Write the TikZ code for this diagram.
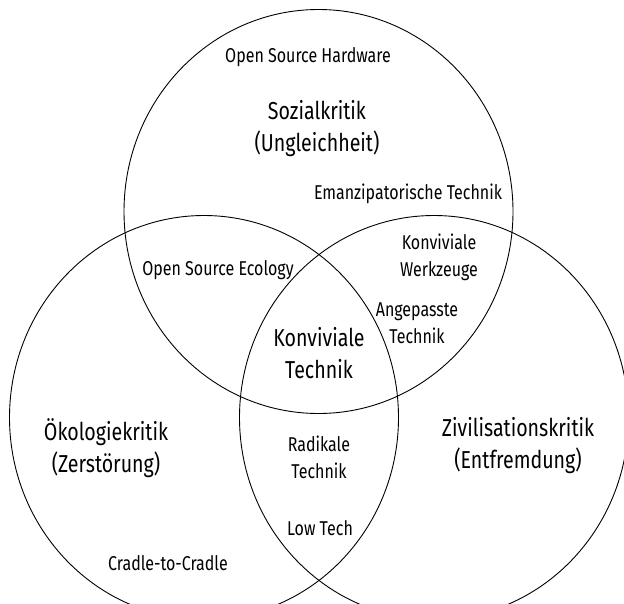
\documentclass[tikz,border=0pt]{standalone}
\usepackage{fontspec}
\setmainfont{Fira Sans}[FakeStretch=0.8]
\usetikzlibrary{shapes.geometric}
\begin{document}
\begin{tikzpicture}[x=1pt,y=-1pt,
  setcircle/.style={draw=black, line width=0.9pt, ellipse, inner sep=0pt,
    minimum width=389pt, minimum height=404pt},
  small/.style={align=center, inner sep=0pt, font=\fontsize{20}{27}\selectfont},
  big/.style={align=center, inner sep=0pt, font=\fontsize{24.5}{32}\selectfont}]
\useasboundingbox (0,0) rectangle (624,603);
\clip (0,0) rectangle (624,603);
\fill[white] (0,0) rectangle (624,603);
\node[setcircle] (sozial) at (318.5,211.5) {};
\node[setcircle] (oeko) at (204,417.5) {};
\node[setcircle] (zivil) at (434,417.5) {};
\node[small] (osh) at (308,57) {Open Source Hardware};
\node[big] (sk) at (317,129) {Sozialkritik\\(Ungleichheit)};
\node[small] (emt) at (408,194) {Emanzipatorische Technik};
\node[small] (kw) at (439,257) {Konviviale\\Werkzeuge};
\node[small] (ose) at (218,270) {Open Source Ecology};
\node[small] (at) at (417,323) {Angepasste\\Technik};
\node[big] (kt) at (319,353) {Konviviale\\Technik};
\node[big] (ok) at (106,448) {Ökologiekritik\\(Zerstörung)};
\node[big] (zk) at (518,446) {Zivilisationskritik\\(Entfremdung)};
\node[small] (rt) at (319,457) {Radikale\\Technik};
\node[small] (lt) at (320,528) {Low Tech};
\node[small] (c2c) at (168,563) {Cradle-to-Cradle};
\end{tikzpicture}
\end{document}
